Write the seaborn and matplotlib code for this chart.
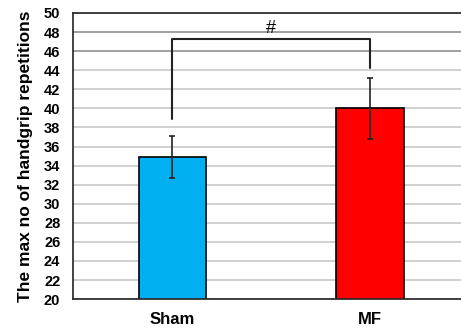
import matplotlib
matplotlib.use("Agg")
import matplotlib.pyplot as plt
import seaborn as sns
import pandas as pd

# values
groups = ["Sham", "MF"]
means = [34.9, 40.0]
sds = [2.2, 3.2]
colors = ["#00B0F0", "#FF0000"]

# significance bracket (left foot, top, right foot) and label
bracket_y = [38.9, 47.3, 44.2]
sig_label = "#"

sns.set_theme(style="white")
plt.rcParams["font.family"] = ["Liberation Sans", "DejaVu Sans"]

df = pd.DataFrame({"group": groups, "mean": means, "sd": sds})

fig = plt.figure(figsize=(4.61, 3.32), dpi=100)
ax = fig.add_axes([0.158, 0.099, 0.842, 0.862])

sns.barplot(data=df, x="group", y="mean", hue="group", palette=colors,
            saturation=1, width=0.34, edgecolor="black", linewidth=1.2,
            legend=False, ax=ax)
ax.errorbar(range(len(groups)), df["mean"], yerr=df["sd"], fmt="none",
            ecolor="#222222", elinewidth=1.2, capsize=2, capthick=1.2, zorder=3)

ax.set_ylim(20, 50)
ax.set_xlim(-0.504, 1.46)
ax.set_yticks(range(20, 51, 2))
ax.yaxis.grid(True, color="#c8c8c8", linewidth=1.2)
ax.set_axisbelow(True)
for val, line in zip(range(20, 51, 2), ax.get_ygridlines()):
    if val in (46, 48):
        line.set_color("#909090")

ax.spines["right"].set_visible(False)
for side in ["left", "bottom", "top"]:
    ax.spines[side].set_color("#222222")
    ax.spines[side].set_linewidth(1.2)

ax.tick_params(axis="y", length=0, pad=9, labelsize=10.5, labelcolor="black")
ax.tick_params(axis="x", direction="in", length=3, width=1, color="#333333",
               pad=9, labelsize=12, labelcolor="black")
for lbl in ax.get_xticklabels() + ax.get_yticklabels():
    lbl.set_fontweight("bold")

ax.set_xlabel("")
ax.set_ylabel("The max no of handgrip repetitions", fontsize=12.5,
              fontweight="bold", color="black", labelpad=8)

ax.plot([0, 0, 1, 1], [bracket_y[0], bracket_y[1], bracket_y[1], bracket_y[2]],
        color="#222222", linewidth=1.5, zorder=4)
ax.text(0.5, bracket_y[1] + 0.15, sig_label, ha="center", va="bottom",
        fontsize=13, color="black")

fig.savefig("out.png", dpi=100)
